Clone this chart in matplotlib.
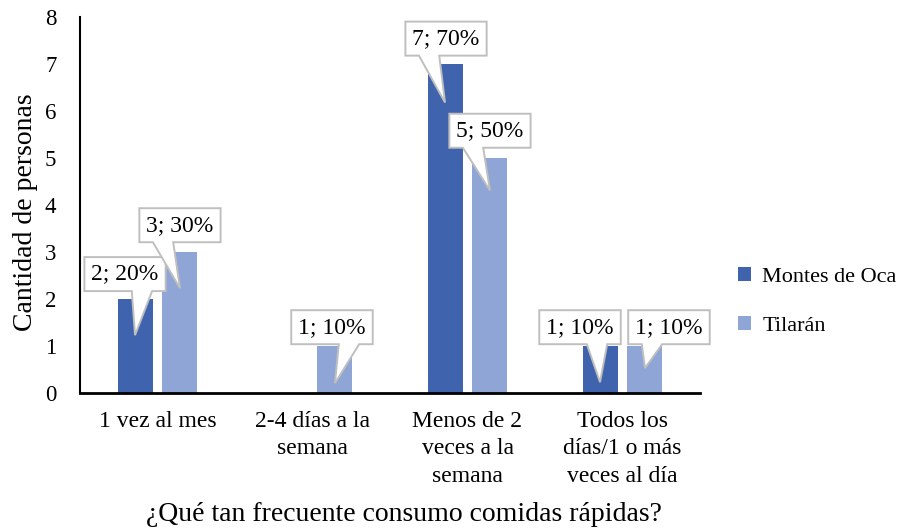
import matplotlib
matplotlib.use("Agg")
import matplotlib.pyplot as plt
from matplotlib.patches import Polygon
from matplotlib.transforms import IdentityTransform
import numpy as np

# data
categories = ["1 vez al mes", "2-4 días a la\nsemana", "Menos de 2\nveces a la\nsemana",
              "Todos los\ndías/1 o más\nveces al día"]
montes = [2, 0, 7, 1]
tilaran = [3, 1, 5, 1]
series_names = ["Montes de Oca", "Tilarán"]

# callout layout (label box x shift in px, box centre y and pointer tip y in data units)
montes_box_dx = [-10, 0, 1, -20]
montes_box_y = [2.53, None, 7.54, 1.40]
montes_tip_y = [1.23, None, 6.18, 0.23]
tilaran_box_dx = [0, -3, 0, 24]
tilaran_box_y = [3.57, 1.40, 5.58, 1.40]
tilaran_tip_y = [2.23, 0.21, 4.31, 0.53]

plt.rcParams['font.family'] = ['Liberation Serif', 'DejaVu Serif']

c_montes = "#3F63AD"
c_tilaran = "#8EA5D6"

fig = plt.figure(figsize=(9.08, 5.31), dpi=100)
ax = fig.add_axes([80 / 908, 1 - 393 / 531, 620 / 908, 376 / 531])

x = np.arange(len(categories))
w = 0.226
off = 0.145
ax.bar(x - off, montes, w, color=c_montes, label=series_names[0], zorder=2)
ax.bar(x + off, tilaran, w, color=c_tilaran, label=series_names[1], zorder=2)

ax.set_xlim(-0.5, len(categories) - 0.5)
ax.set_ylim(0, 8)
ax.set_yticks(range(0, 9))
ax.set_xticks(x)
ax.set_xticklabels(categories)
ax.tick_params(axis='y', length=0, pad=17, labelsize=16.5)
ax.tick_params(axis='x', length=0, pad=13, labelsize=17)
for s in ['top', 'right']:
    ax.spines[s].set_visible(False)
ax.spines['left'].set_linewidth(1.5)
ax.spines['bottom'].set_linewidth(2)

ax.set_ylabel("Cantidad de personas", fontsize=20)
ax.yaxis.set_label_coords(-0.068, 0.481)
ax.set_xlabel("¿Qué tan frecuente consumo comidas rápidas?", fontsize=20)
ax.xaxis.set_label_coords(0.523, -0.29)

fig.legend(loc='center left', bbox_to_anchor=(738 / 908, 1 - 301.5 / 531), frameon=False,
           fontsize=16, handlelength=0.6, handleheight=0.6, handletextpad=0.5,
           labelspacing=1.3, borderpad=0, borderaxespad=0)

fig.canvas.draw()
for lbl in ax.get_xticklabels():
    lbl.set_linespacing(1.4)
renderer = fig.canvas.get_renderer()


def callout(xc, value, total, dx, box_y, tip_y):
    pct = round(value / total * 100)
    cx, cy = ax.transData.transform((xc, box_y))
    cx += dx
    t = ax.text(cx, cy, f"{value}; {pct}%", transform=IdentityTransform(),
                ha='center', va='center', fontsize=17, zorder=5)
    ext = t.get_window_extent(renderer)
    bw = ext.width + 14
    bh = 34
    x0, x1 = cx - bw / 2, cx + bw / 2
    y0, y1 = cy - bh / 2, cy + bh / 2
    tx, ty = ax.transData.transform((xc, tip_y))
    if tx > cx:
        b0, b1 = x0 + 7 * bw / 12, x0 + 10 * bw / 12
    else:
        b0, b1 = x0 + 2 * bw / 12, x0 + 5 * bw / 12
    pts = [(x0, y0), (b0, y0), (tx, ty), (b1, y0), (x1, y0), (x1, y1), (x0, y1)]
    ax.add_patch(Polygon(pts, closed=True, transform=IdentityTransform(),
                         facecolor='white', edgecolor='#BFBFBF', lw=1.4, zorder=4,
                         clip_on=False))


for i in range(len(categories)):
    if montes[i] > 0:
        callout(x[i] - off, montes[i], sum(montes), montes_box_dx[i], montes_box_y[i], montes_tip_y[i])
    if tilaran[i] > 0:
        callout(x[i] + off, tilaran[i], sum(tilaran), tilaran_box_dx[i], tilaran_box_y[i], tilaran_tip_y[i])

fig.savefig("out.png", dpi=100)
